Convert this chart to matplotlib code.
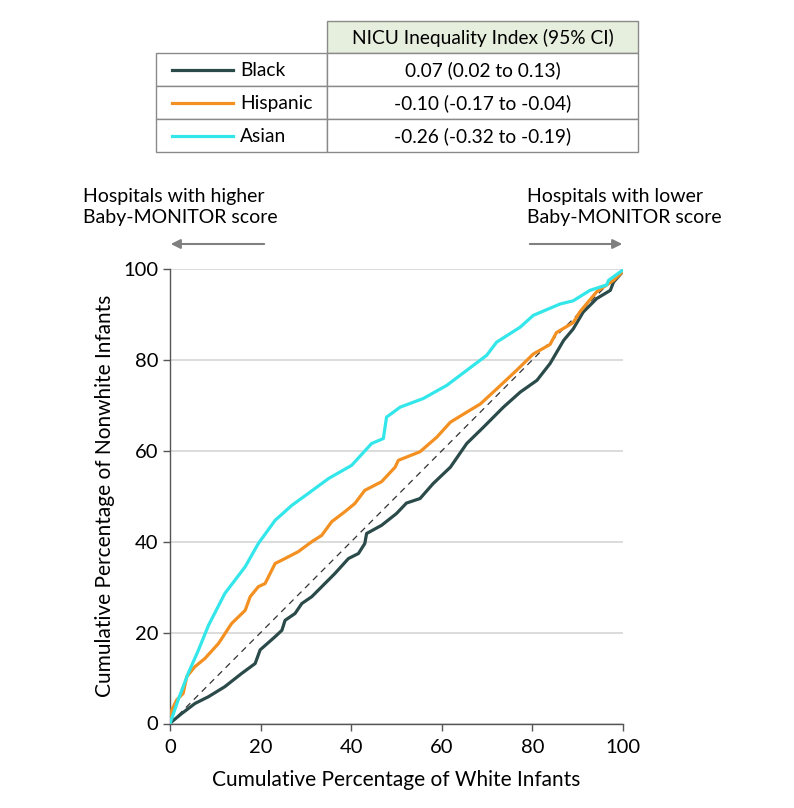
import matplotlib.pyplot as plt
from matplotlib.patches import Rectangle

plt.rcParams['font.family'] = ['Lato', 'DejaVu Sans']

groups = ['Black', 'Hispanic', 'Asian']
index_text = ['0.07 (0.02 to 0.13)', '-0.10 (-0.17 to -0.04)', '-0.26 (-0.32 to -0.19)']
colors = ['#2b4a4a', '#f39021', '#33e6ea']

black_x = [0, 0.4, 2.6, 5.5, 8.5, 12.1, 15.8, 18.8, 19.9, 23.2, 24.7, 25.4, 27.6, 29.1, 31.3, 34.2,
           36.4, 39.4, 41.6, 43.0, 43.4, 46.7, 50.0, 52.2, 55.2, 58.1, 61.9, 65.5, 69.2, 73.6, 77.3,
           81.0, 83.9, 86.9, 89.0, 91.2, 94.2, 97.2, 97.9, 100]
black_y = [0, 0.4, 2.2, 4.4, 5.9, 8.1, 11.0, 13.2, 16.2, 19.1, 20.5, 22.7, 24.2, 26.4, 27.9, 30.8,
           33.0, 36.3, 37.4, 39.6, 41.8, 43.6, 46.2, 48.5, 49.5, 52.8, 56.4, 61.6, 65.2, 69.6, 72.9,
           75.5, 79.2, 84.3, 86.8, 90.5, 93.5, 95.3, 97.1, 99.5]

hisp_x = [0, 0.4, 1.5, 2.9, 3.7, 5.5, 7.7, 10.7, 13.6, 16.6, 17.7, 19.5, 21.0, 23.2, 25.4, 28.3,
          31.3, 33.5, 35.7, 38.6, 40.8, 43.0, 46.7, 49.7, 50.4, 55.2, 58.9, 61.9, 65.5, 68.5, 72.1,
          76.5, 80.2, 83.9, 85.3, 89.0, 90.5, 94.2, 97.9, 100]
hisp_y = [0, 3.0, 5.2, 6.6, 10.3, 12.5, 14.3, 17.6, 22.0, 24.9, 27.9, 30.1, 30.8, 35.2, 36.3, 37.8,
          40.0, 41.4, 44.4, 46.6, 48.4, 51.3, 53.2, 56.4, 57.9, 59.8, 63.0, 66.3, 68.5, 70.3, 73.6,
          77.7, 81.3, 83.4, 86.0, 88.2, 90.6, 95.0, 97.5, 99.5]

asian_x = [0, 1.8, 4.0, 6.3, 8.5, 12.1, 16.6, 19.5, 23.2, 26.9, 30.5, 35.0, 40.1, 44.5, 47.1, 47.8,
           50.8, 55.9, 61.1, 65.5, 69.9, 72.1, 77.3, 80.2, 86.1, 89.0, 92.7, 96.4, 96.8, 100]
asian_y = [0, 5.2, 11.0, 16.2, 21.6, 28.6, 34.5, 39.6, 44.7, 48.0, 50.6, 53.9, 56.8, 61.6, 62.7, 67.4,
           69.6, 71.5, 74.4, 77.7, 81.0, 83.9, 87.2, 89.8, 92.3, 93.0, 95.3, 96.5, 97.5, 99.8]

series = [(black_x, black_y), (hisp_x, hisp_y), (asian_x, asian_y)]
ticks = [0, 20, 40, 60, 80, 100]

fig = plt.figure(figsize=(7.94, 8.08), dpi=100)
ax = fig.add_axes([170 / 794, 1 - 723.5 / 808, 453 / 794, 454.5 / 808])

ax.plot([0, 100], [0, 100], ls=(0, (5, 4)), color='#333333', lw=0.9, zorder=2)
for (xs, ys), c in zip(series, colors):
    ax.plot(xs, ys, color=c, lw=2.3, zorder=3)

ax.set_xlim(0, 100)
ax.set_ylim(0, 100)
ax.set_xticks(ticks)
ax.set_yticks(ticks)
ax.yaxis.grid(True, color='#d6d6d6', lw=1.2)
ax.set_axisbelow(True)
for s in ['top', 'right']:
    ax.spines[s].set_visible(False)
for s in ['left', 'bottom']:
    ax.spines[s].set_color('#555555')
    ax.spines[s].set_linewidth(1.0)
ax.tick_params(length=5, width=1, color='#555555', labelsize=14.5)
ax.tick_params(axis='x', pad=6)
ax.set_xlabel('Cumulative Percentage of White Infants', fontsize=15, labelpad=10)
ax.set_ylabel('Cumulative Percentage of Nonwhite Infants', fontsize=15, labelpad=6)

# overlay in pixel coordinates for table and arrows
ov = fig.add_axes([0, 0, 1, 1], zorder=-1)
ov.set_xlim(0, 794)
ov.set_ylim(808, 0)
ov.axis('off')

# table
ov.add_patch(Rectangle((327, 21), 311, 32, facecolor='#e6eedd', edgecolor='#8a8a8a', lw=1.0))
ov.text(483, 38, 'NICU Inequality Index (95% CI)', ha='center', va='center', fontsize=13.8)
row_top = [53, 86, 119]
row_h = 33
for i, g in enumerate(groups):
    y0 = row_top[i]
    ov.add_patch(Rectangle((156, y0), 171, row_h, facecolor='white', edgecolor='#8a8a8a', lw=1.0))
    ov.add_patch(Rectangle((327, y0), 311, row_h, facecolor='white', edgecolor='#8a8a8a', lw=1.0))
    yc = y0 + row_h / 2
    ov.plot([172, 233], [yc, yc], color=colors[i], lw=2.3)
    ov.text(240, yc + 1, g, ha='left', va='center', fontsize=13.8)
    ov.text(483, yc + 1, index_text[i], ha='center', va='center', fontsize=13.8)

# direction notes
ov.text(83, 207, 'Hospitals with higher\nBaby-MONITOR score', ha='left', va='center',
        fontsize=14, linespacing=1.25)
ov.text(527, 207, 'Hospitals with lower\nBaby-MONITOR score', ha='left', va='center',
        fontsize=14, linespacing=1.25)
ov.annotate('', xy=(168, 244), xytext=(267, 244),
            arrowprops=dict(arrowstyle='-|>', color='#808080', lw=1.5, mutation_scale=14))
ov.annotate('', xy=(625, 244), xytext=(527, 244),
            arrowprops=dict(arrowstyle='-|>', color='#808080', lw=1.5, mutation_scale=14))

fig.savefig('out.png', dpi=100)
